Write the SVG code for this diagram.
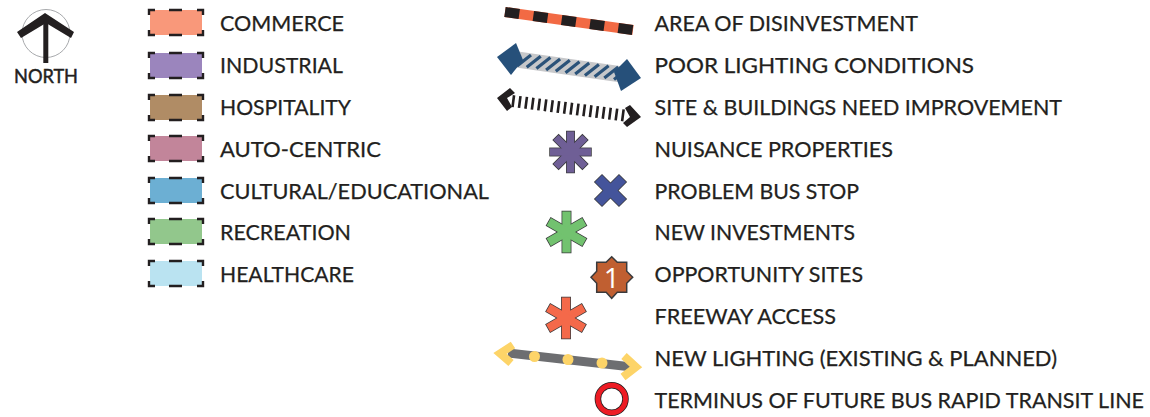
<svg xmlns="http://www.w3.org/2000/svg" width="1150" height="417" viewBox="0 0 1150 417">
<style>
text{font-family:"Lato","Open Sans","Liberation Sans",sans-serif;font-size:21px;fill:#231f20;stroke:#231f20;stroke-width:.25}
.sw{stroke:none}
.dash{fill:none;stroke:#231f20;stroke-width:2.400}
.arm{stroke:#3a3a3c;stroke-width:1.500}
.armf{stroke:none}
</style>
<defs>
<g id="frame">
<path class="dash" d="M-1 5V0H5M19 0H32M47 0H53V5M53 20V25H47M32 25H19M5 25H-1V20"/>
</g>
</defs>
<rect width="1150" height="417" fill="#fff"/>

<g id="north">
<circle cx="46" cy="33.500" r="24" fill="none" stroke="#a7a9ac" stroke-width="1"/>
<polygon points="17,32 45,13 74,32 71,38 46,23 21,38" fill="#231f20"/>
<rect x="43.300" y="20" width="5" height="43" fill="#231f20"/>
<text x="14" y="82.500" textLength="64" lengthAdjust="spacingAndGlyphs" style="font-size:20px;stroke-width:.5">NORTH</text>
</g>

<g id="commerce"><rect class="sw" x="150" y="10" width="52" height="25" fill="#f9987a"/><use href="#frame" x="150" y="10"/><text x="220" y="31" textLength="124" lengthAdjust="spacingAndGlyphs">COMMERCE</text></g>
<g id="industrial"><rect class="sw" x="150" y="53" width="52" height="25" fill="#9b85bd"/><use href="#frame" x="150" y="53"/><text x="220" y="73" textLength="123" lengthAdjust="spacingAndGlyphs">INDUSTRIAL</text></g>
<g id="hospitality"><rect class="sw" x="150" y="95" width="52" height="25" fill="#b08c65"/><use href="#frame" x="150" y="95"/><text x="220" y="115" textLength="131" lengthAdjust="spacingAndGlyphs">HOSPITALITY</text></g>
<g id="auto-centric"><rect class="sw" x="150" y="136" width="52" height="25" fill="#c2859a"/><use href="#frame" x="150" y="136"/><text x="220" y="157" textLength="161" lengthAdjust="spacingAndGlyphs">AUTO-CENTRIC</text></g>
<g id="cultural"><rect class="sw" x="150" y="178" width="52" height="25" fill="#6cafd3"/><use href="#frame" x="150" y="178"/><text x="220" y="199" textLength="269" lengthAdjust="spacingAndGlyphs">CULTURAL/EDUCATIONAL</text></g>
<g id="recreation"><rect class="sw" x="150" y="219" width="52" height="25" fill="#92c78c"/><use href="#frame" x="150" y="219"/><text x="220" y="240" textLength="131" lengthAdjust="spacingAndGlyphs">RECREATION</text></g>
<g id="healthcare"><rect class="sw" x="150" y="261" width="52" height="25" fill="#bae3f1"/><use href="#frame" x="150" y="261"/><text x="220" y="282" textLength="134" lengthAdjust="spacingAndGlyphs">HEALTHCARE</text></g>

<g id="disinvestment">
<line x1="505" y1="12" x2="633" y2="30" stroke="#f26a44" stroke-width="10"/>
<line x1="505" y1="12" x2="633" y2="30" stroke="#231f20" stroke-width="10" stroke-dasharray="14.400 14.200"/>
<text x="654.500" y="31" textLength="263.500" lengthAdjust="spacingAndGlyphs">AREA OF DISINVESTMENT</text>
</g>
<g id="poor-lighting">
<line x1="517" y1="59.500" x2="622" y2="74.500" stroke="#c7c8ca" stroke-width="16"/>
<path d="M517 65.900L531 54.900M526.700 67.300L540.700 56.300M536.400 68.600L550.400 57.600M546.100 70L560.100 59M555.800 71.300L569.800 60.300M565.500 72.700L579.500 61.700M575.200 74.100L589.200 63.100M584.900 75.400L598.900 64.400M594.600 76.800L608.600 65.800M604.300 78.100L618.300 67.100M614 79.500L628 68.500" stroke="#2a5279" stroke-width="3.200" fill="none"/>
<polygon points="497,57 516,43 523,60 511,75" fill="#26507a"/>
<polygon points="627,59 641,78 621,91 614,72" fill="#26507a"/>
<text x="654.500" y="73" textLength="319.500" lengthAdjust="spacingAndGlyphs">POOR LIGHTING CONDITIONS</text>
</g>
<g id="site-buildings">
<line x1="512" y1="101" x2="628" y2="116" stroke="#231f20" stroke-width="12" stroke-dasharray="2.600 3.900"/>
<polygon points="497,98 510,88 515,93 507,98 512,107 507,111" fill="#231f20"/>
<polygon points="625,108 630,105 641,117 627,127 623,123 630,117" fill="#231f20"/>
<text x="654.500" y="115" textLength="407.500" lengthAdjust="spacingAndGlyphs">SITE &amp; BUILDINGS NEED IMPROVEMENT</text>
</g>
<g id="nuisance">
<g transform="translate(570.500 152)" fill="#6f5f96">
<rect class="arm" x="-3.700" y="-20.500" width="7.400" height="41"/><rect class="arm" x="-3.700" y="-20.500" width="7.400" height="41" transform="rotate(45)"/><rect class="arm" x="-3.700" y="-20.500" width="7.400" height="41" transform="rotate(90)"/><rect class="arm" x="-3.700" y="-20.500" width="7.400" height="41" transform="rotate(135)"/>
<rect class="armf" x="-3.700" y="-20.500" width="7.400" height="41"/><rect class="armf" x="-3.700" y="-20.500" width="7.400" height="41" transform="rotate(45)"/><rect class="armf" x="-3.700" y="-20.500" width="7.400" height="41" transform="rotate(90)"/><rect class="armf" x="-3.700" y="-20.500" width="7.400" height="41" transform="rotate(135)"/>
</g>
<text x="654.500" y="157" textLength="238.500" lengthAdjust="spacingAndGlyphs">NUISANCE PROPERTIES</text>
</g>
<g id="problem-bus-stop">
<g transform="translate(610.500 190.500)" fill="#44549b">
<rect class="arm" x="-5" y="-17" width="10" height="34" transform="rotate(45)"/><rect class="arm" x="-5" y="-17" width="10" height="34" transform="rotate(135)"/>
<rect class="armf" x="-5" y="-17" width="10" height="34" transform="rotate(45)"/><rect class="armf" x="-5" y="-17" width="10" height="34" transform="rotate(135)"/>
</g>
<text x="654.500" y="199" textLength="204.500" lengthAdjust="spacingAndGlyphs">PROBLEM BUS STOP</text>
</g>
<g id="new-investments">
<g transform="translate(566.500 232)" fill="#72c26f">
<rect class="arm" x="-4.200" y="-20.500" width="8.400" height="41"/><rect class="arm" x="-4.200" y="-20.500" width="8.400" height="41" transform="rotate(60)"/><rect class="arm" x="-4.200" y="-20.500" width="8.400" height="41" transform="rotate(120)"/>
<rect class="armf" x="-4.200" y="-20.500" width="8.400" height="41"/><rect class="armf" x="-4.200" y="-20.500" width="8.400" height="41" transform="rotate(60)"/><rect class="armf" x="-4.200" y="-20.500" width="8.400" height="41" transform="rotate(120)"/>
</g>
<text x="654.500" y="240" textLength="200.500" lengthAdjust="spacingAndGlyphs">NEW INVESTMENTS</text>
</g>
<g id="opportunity-sites">
<polygon points="611.700,256.700 617.300,262.300 626.700,262.300 626.700,271.300 632.700,277.300 626.700,283.300 626.700,292.300 617.300,292.300 611.700,298.300 606.100,292.300 596.700,292.300 596.700,283.300 591,277.300 596.700,271.300 596.700,262.300 606.100,262.300" fill="#c05f31" stroke="#3a3a3c" stroke-width="1.500"/>
<text x="611.700" y="288" text-anchor="middle" style="font-family:'Open Sans',sans-serif;font-size:28px;font-weight:400;fill:#fff;stroke:none">1</text>
<text x="654.500" y="282" textLength="208.500" lengthAdjust="spacingAndGlyphs">OPPORTUNITY SITES</text>
</g>
<g id="freeway-access">
<g transform="translate(566 318)" fill="#f4694a">
<rect class="arm" x="-4.200" y="-20.500" width="8.400" height="41"/><rect class="arm" x="-4.200" y="-20.500" width="8.400" height="41" transform="rotate(60)"/><rect class="arm" x="-4.200" y="-20.500" width="8.400" height="41" transform="rotate(120)"/>
<rect class="armf" x="-4.200" y="-20.500" width="8.400" height="41"/><rect class="armf" x="-4.200" y="-20.500" width="8.400" height="41" transform="rotate(60)"/><rect class="armf" x="-4.200" y="-20.500" width="8.400" height="41" transform="rotate(120)"/>
</g>
<text x="654.500" y="324" textLength="181.500" lengthAdjust="spacingAndGlyphs">FREEWAY ACCESS</text>
</g>
<g id="new-lighting">
<line x1="508" y1="353" x2="632" y2="367" stroke="#6d6e71" stroke-width="9"/>
<circle cx="534.500" cy="356.500" r="5.500" fill="#fdd468"/><circle cx="568" cy="359.500" r="5.500" fill="#fdd468"/><circle cx="602" cy="363" r="5.500" fill="#fdd468"/>
<polyline points="513,345 500,353.500 511,363" fill="none" stroke="#fdd468" stroke-width="8"/>
<polyline points="624,356 636,367 623,377" fill="none" stroke="#fdd468" stroke-width="8"/>
<text x="654.500" y="366" textLength="402.500" lengthAdjust="spacingAndGlyphs">NEW LIGHTING (EXISTING &amp; PLANNED)</text>
</g>
<g id="bus-rapid-transit">
<circle cx="611.700" cy="399" r="13.800" fill="#fff" stroke="#231f20" stroke-width="6.500"/>
<circle cx="611.700" cy="399" r="13.800" fill="none" stroke="#ed1c24" stroke-width="5"/>
<text x="654.500" y="408" textLength="489.500" lengthAdjust="spacingAndGlyphs">TERMINUS OF FUTURE BUS RAPID TRANSIT LINE</text>
</g>
</svg>
